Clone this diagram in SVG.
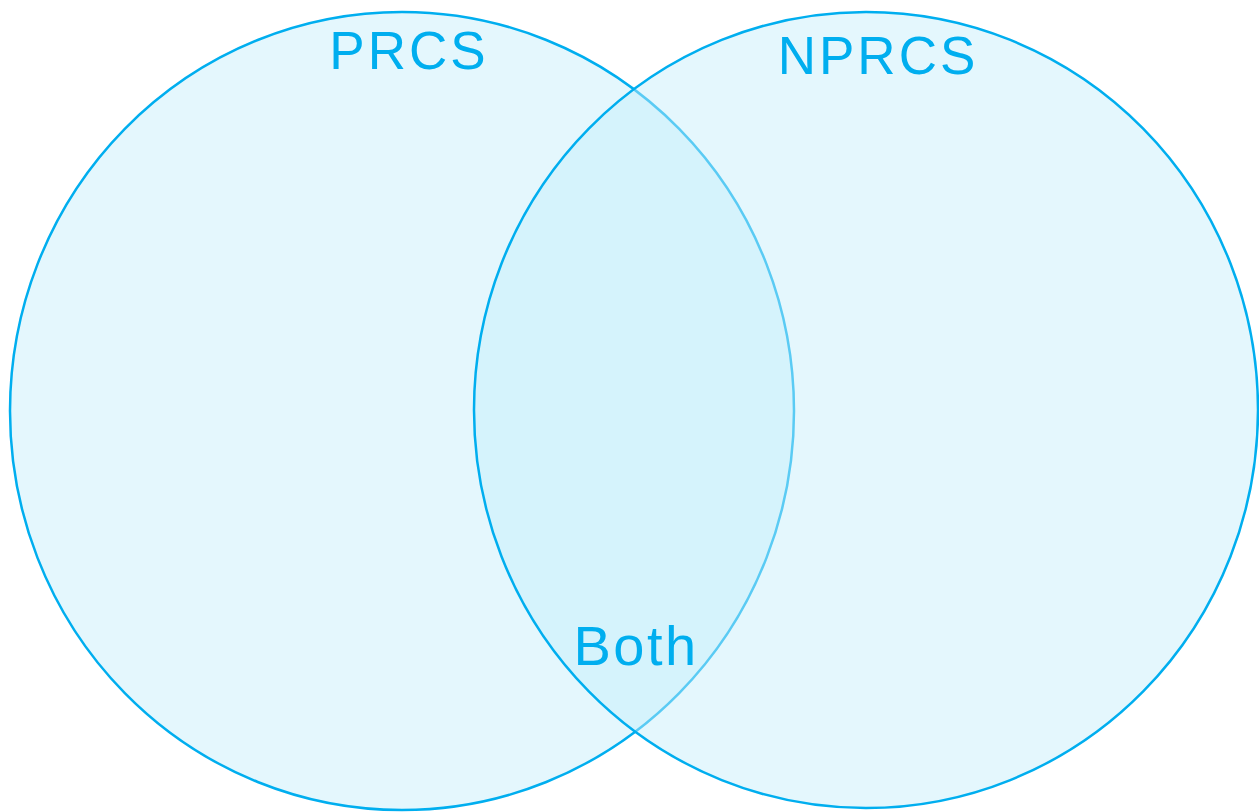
<svg xmlns="http://www.w3.org/2000/svg" width="1259" height="812" viewBox="0 0 1259 812">
  <style>
    .set { fill: #c4eefb; fill-opacity: 0.46; stroke: #00aeef; stroke-width: 2.5; }
    .label { font-family: "Liberation Sans", Arial, sans-serif; font-size: 53px; fill: #00aeef; text-anchor: middle; letter-spacing: 3px; }
  </style>
  <rect width="1259" height="812" fill="#ffffff"/>
  <g id="set-prcs">
    <ellipse class="set" cx="402" cy="411" rx="392" ry="399"/>
  </g>
  <g id="set-nprcs">
    <ellipse class="set" cx="866" cy="410" rx="392" ry="398"/>
  </g>
  <g id="connectors"></g>
  <g id="labels">
    <text id="label-prcs" class="label" x="409" y="69">PRCS</text>
    <text id="label-nprcs" class="label" x="878" y="74">NPRCS</text>
    <text id="label-both" class="label" x="636" y="665" style="font-size:56px;letter-spacing:2.5px">Both</text>
  </g>
</svg>
